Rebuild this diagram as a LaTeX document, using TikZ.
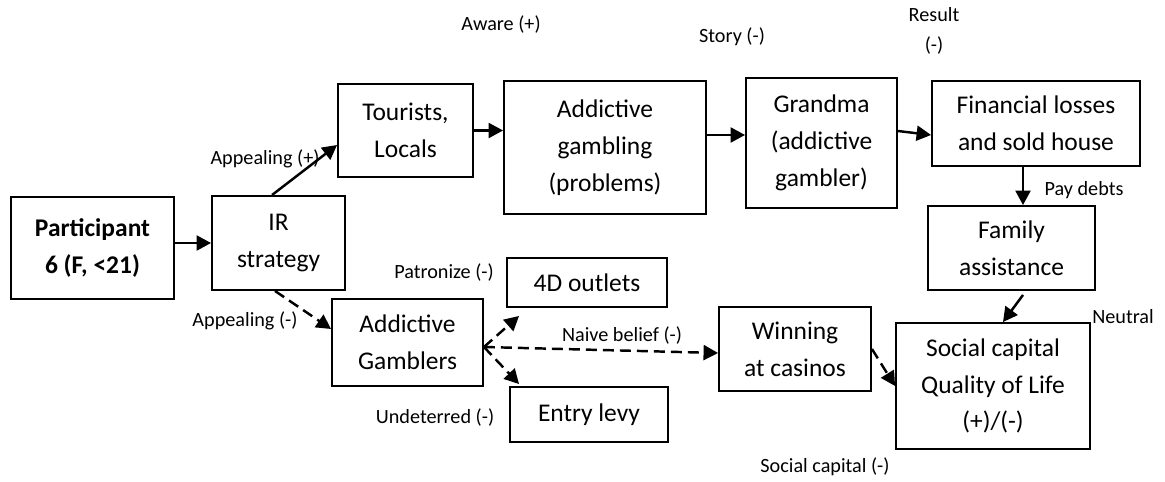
\documentclass[tikz,border=0pt]{standalone}
\usepackage{fontspec}
\setmainfont{Carlito}
\usetikzlibrary{arrows.meta}

\newcommand{\boxfont}{\fontsize{14.5}{21}\selectfont}
\newcommand{\tagfont}{\fontsize{11.5}{14}\selectfont}

\tikzset{
  box/.style={draw, line width=1.1pt, align=center, inner sep=0pt, font=\boxfont},
  tag/.style={inner sep=0pt, align=center, font=\tagfont},
  arr/.style={line width=1.4pt, -{Triangle[length=0.29cm,width=0.3cm]}},
  dasharr/.style={arr, dash pattern=on 0.22cm off 0.12cm}
}

\begin{document}
\begin{tikzpicture}[x=0.02cm,y=-0.02cm]
  \useasboundingbox (0,0) rectangle (1165,482);

  % boxes
  \node[box, minimum width=3.26cm, minimum height=2.04cm] (part) at (92.5,248) {\textbf{Participant}\\\textbf{6 (F, <21)}};
  \node[box, minimum width=2.66cm, minimum height=1.88cm] (ir) at (278.5,243) {IR\\strategy};
  \node[box, minimum width=2.70cm, minimum height=1.86cm] (tour) at (405.5,130.5) {Tourists,\\Locals};
  \node[box, minimum width=4.04cm, minimum height=2.66cm] (addg) at (605,147.5) {Addictive\\gambling\\(problems)};
  \node[box, minimum width=3.02cm, minimum height=2.60cm] (grandma) at (821.5,143) {Grandma\\(addictive\\gambler)};
  \node[box, minimum width=4.16cm, minimum height=1.70cm] (fin) at (1036,123.5) {Financial losses\\and sold house};
  \node[box, minimum width=3.34cm, minimum height=1.68cm] (family) at (1011.5,248) {Family\\assistance};
  \node[box, minimum width=3.88cm, minimum height=2.52cm] (qol) at (993,386) {Social capital\\Quality of Life\\(+)/(-)};
  \node[box, minimum width=3.04cm, minimum height=1.68cm] (win) at (795,349) {Winning\\at casinos};
  \node[box, minimum width=3.20cm, minimum height=0.98cm] (outlets) at (587,282.5) {4D outlets};
  \node[box, minimum width=3.02cm, minimum height=1.74cm] (gamb) at (407.5,342.5) {Addictive\\Gamblers};
  \node[box, minimum width=3.16cm, minimum height=1.10cm] (levy) at (589,414.5) {Entry levy};

  % labels
  \node[tag] (aware) at (501,25) {Aware (+)};
  \node[tag] (story) at (732,37) {Story (-)};
  \node[tag, font=\fontsize{11.5}{17.5}\selectfont] (result) at (934,31) {Result\\(-)};
  \node[tag] (appealp) at (265,159) {Appealing (+)};
  \node[tag] (paydebts) at (1084,190) {Pay debts};
  \node[tag] (patron) at (444,273) {Patronize (-)};
  \node[tag] (naive) at (622,336) {Naive belief (-)};
  \node[tag] (undet) at (435,418) {Undeterred (-)};
  \node[tag] (appealm) at (245,321) {Appealing (-)};
  \node[tag] (neutral) at (1123,317) {Neutral};
  \node[tag] (socneg) at (825,467) {Social capital (-)};

  % solid links
  \draw[arr] (part.east |- ir.west) -- (ir.west);
  \draw[arr] ([xshift=-0.13cm]ir.north) -- ([yshift=-0.29cm]tour.west);
  \draw[arr] (tour.east) -- (tour.east -| addg.west);
  \draw[arr] ([yshift=0.25cm]addg.east) -- ([yshift=0.25cm]addg.east -| grandma.west);
  \draw[arr] ([yshift=0.24cm]grandma.east) -- ([yshift=-0.23cm]fin.west);
  \draw[arr] ([xshift=-0.26cm]fin.south) -- ([xshift=-0.26cm]fin.south |- family.north);
  \draw[arr] ([xshift=0.23cm,yshift=-0.08cm]family.south) -- ([xshift=0.2cm]qol.north);

  % dashed links
  \coordinate (fork) at ([yshift=-0.09cm]gamb.east);
  \draw[dasharr] ([xshift=-0.07cm]ir.south) -- ([yshift=0.27cm]gamb.west);
  \draw[dasharr] (fork) -- ([shift={(0.26cm,-0.16cm)}]outlets.south west);
  \draw[dasharr] (fork) -- ([shift={(0.2cm,0.04cm)}]levy.north west);
  \draw[dasharr] (fork) -- ([yshift=-0.08cm]win.west);
  \draw[dasharr] (win.east) -- (qol.west);
\end{tikzpicture}
\end{document}
